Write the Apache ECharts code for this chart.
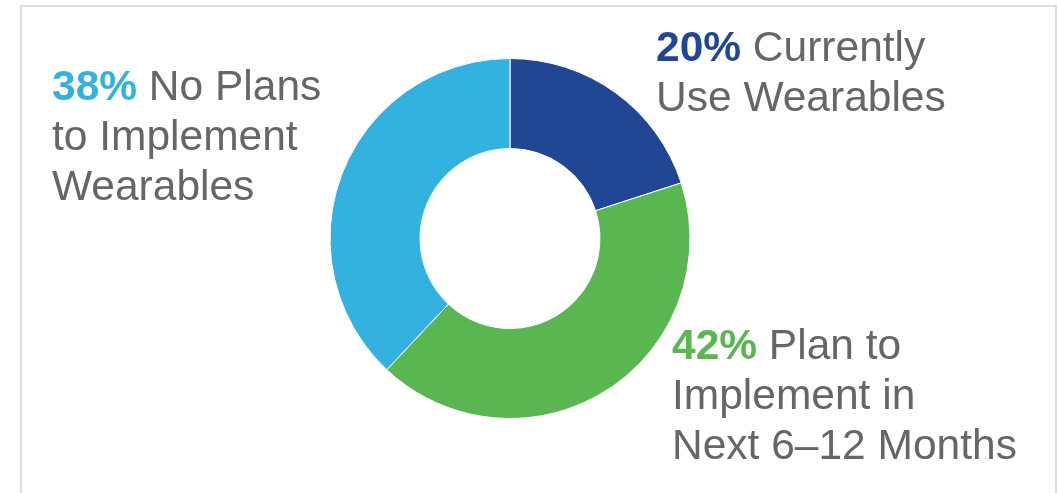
<!DOCTYPE html>
<html>
<head>
<meta charset="utf-8">
<script src="https://cdn.jsdelivr.net/npm/echarts@6/dist/echarts.min.js"></script>
<style>
html,body{margin:0;padding:0;background:#fff;}
#c{width:1059px;height:493px;}
</style>
</head>
<body>
<div id="c"></div>
<script>
var categories = ['Currently\nUse Wearables', 'Plan to\nImplement in\nNext 6\u201312 Months', 'No Plans\nto Implement\nWearables'];
var values = [20, 42, 38];
var colors = ['#214794', '#5ab650', '#33b2df'];

var labelPos = [
  {x: 656, y: 24},
  {x: 672, y: 322},
  {x: 52, y: 63}
];

var chart = echarts.init(document.getElementById('c'));
var data = categories.map(function (name, i) {
  var lines = name.split('\n');
  var fmt = '{p' + i + '|' + values[i] + '%}{t| ' + lines[0] + '}';
  for (var k = 1; k < lines.length; k++) fmt += '\n{t|' + lines[k] + '}';
  return {
    name: name,
    value: values[i],
    itemStyle: {color: colors[i]},
    label: {formatter: fmt}
  };
});
var rich = {t: {fontFamily: 'Liberation Sans, Arial, sans-serif', fontSize: 42.5, color: '#666666', lineHeight: 50}};
colors.forEach(function (c, i) {
  rich['p' + i] = {fontFamily: 'Liberation Sans, Arial, sans-serif', fontSize: 42.5, fontWeight: 'bold', color: c, lineHeight: 50};
});

chart.setOption({
  animation: false,
  graphic: [{
    type: 'rect',
    shape: {x: 21, y: 6, width: 1035, height: 700},
    style: {fill: null, stroke: '#dedede', lineWidth: 2},
    silent: true
  }],
  series: [{
    type: 'pie',
    center: [510, 238.5],
    radius: [90, 180],
    startAngle: 90,
    clockwise: true,
    silent: true,
    itemStyle: {borderColor: '#ffffff', borderWidth: 1},
    label: {show: true, position: 'outside', rich: rich},
    labelLine: {show: false},
    labelLayout: function (params) {
      var p = labelPos[params.dataIndex];
      return {x: p.x, y: p.y, align: 'left', verticalAlign: 'top'};
    },
    data: data
  }]
});
</script>
</body>
</html>
